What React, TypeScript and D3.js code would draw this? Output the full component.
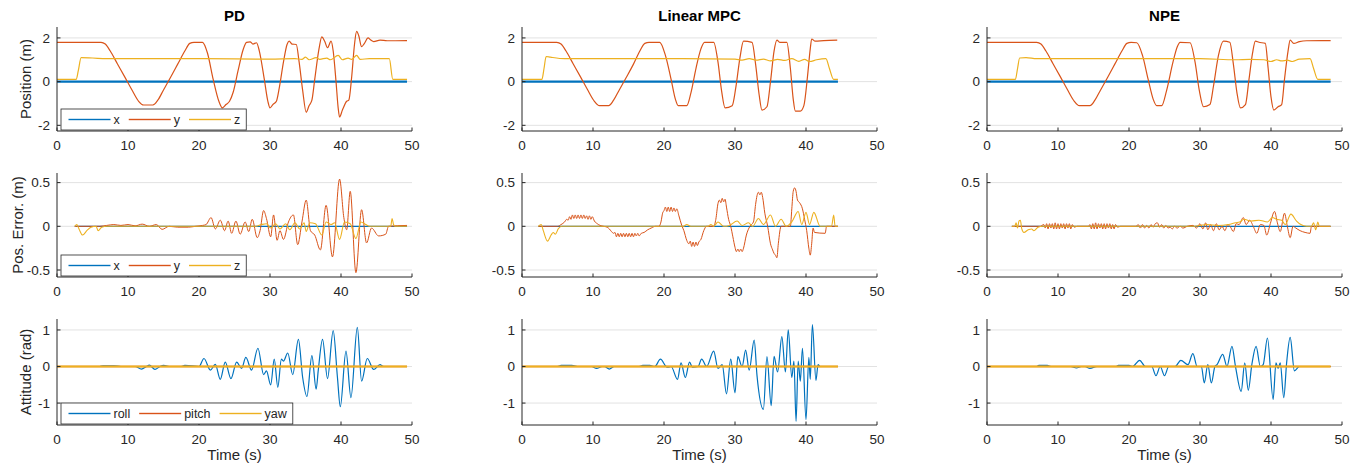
import React from "react";
import * as d3 from "d3";

type Pt = [number, number];

// axis ticks
const xTicks = [0, 10, 20, 30, 40, 50];
const posTicks = [-2, 0, 2];
const errTicks = [-0.5, 0, 0.5];
const attTicks = [-1, 0, 1];

const controllers = ["PD", "Linear MPC", "NPE"];
const rowLabels = ["Position (m)", "Pos. Error. (m)", "Attitude (rad)"];
const xyzNames = ["x", "y", "z"];
const attNames = ["roll", "pitch", "yaw"];

// ---------- position ----------
const pdPosX: Pt[] = [[0, 0], [49.3, 0]];
const pdPosY: Pt[] = [[0, 1.8], [6.2, 1.8], [6.8, 1.72], [7.5, 1.4], [8.5, 0.82], [9.5, 0.24], [10.5, -0.35], [11.5, -0.9], [12.2, -1.07], [13.5, -1.07], [14.2, -0.85], [15, -0.38], [16, 0.2], [17, 0.8], [18, 1.4], [18.7, 1.75], [19.3, 1.8], [20.5, 1.8], [21.2, 1.3], [22, 0.1], [22.8, -0.9], [23.3, -1.2], [23.8, -1.05], [24.3, -0.9], [24.8, -0.5], [25.5, 0.5], [26.2, 1.45], [26.7, 1.8], [27.2, 1.82], [27.6, 1.72], [28.1, 1.78], [28.5, 1.4], [29.2, 0.1], [29.7, -0.9], [30, -1.2], [30.4, -1.05], [30.9, -0.9], [31.3, -0.3], [31.9, 0.9], [32.4, 1.7], [32.7, 1.85], [33.1, 1.72], [33.7, 1.7], [34.1, 0.9], [34.6, -0.4], [35.1, -1.4], [35.5, -1.1], [35.9, -0.85], [36.3, 0.1], [36.9, 1.5], [37.3, 2.05], [37.7, 1.85], [38.1, 1.55], [38.6, 1.85], [38.9, 1.4], [39.3, 0], [39.6, -1.2], [39.8, -1.62], [40.2, -1.3], [40.8, -0.9], [41.1, -0.85], [41.5, 0.2], [41.9, 1.7], [42.2, 2.3], [42.5, 2.1], [42.9, 1.6], [43.3, 1.75], [43.8, 2.0], [44.2, 1.9], [44.6, 1.83], [45.5, 1.9], [46.5, 1.87], [49.3, 1.88]];
const pdPosZ: Pt[] = [[0, 0.1], [2.7, 0.1], [3.0, 0.5], [3.4, 1.1], [5, 1.08], [7, 1.05], [20, 1.05], [30, 1.03], [33.5, 1.05], [34.5, 1.02], [35, 1.12], [35.5, 1.0], [36.5, 1.1], [37, 1.02], [38, 1.08], [38.5, 1.0], [39.6, 1.2], [40.2, 1.0], [41, 1.08], [41.5, 1.02], [42.2, 1.2], [42.7, 1.02], [44, 1.05], [46.8, 1.05], [47.3, 0.1], [49.3, 0.1]];

const mpcPosX: Pt[] = [[0, 0], [44.5, 0]];
const mpcPosY: Pt[] = [[0, 1.8], [4.9, 1.8], [5.5, 1.72], [6.2, 1.4], [7.2, 0.82], [8.2, 0.24], [9.2, -0.35], [10.2, -0.9], [10.9, -1.1], [12.2, -1.1], [12.9, -0.85], [13.7, -0.38], [14.7, 0.2], [15.7, 0.8], [16.6, 1.4], [17.3, 1.75], [17.9, 1.8], [19.4, 1.8], [20.2, 1.2], [21, 0.1], [21.6, -0.8], [22, -1.1], [23.2, -1.1], [23.8, -0.5], [24.5, 0.6], [25.2, 1.5], [25.7, 1.8], [27, 1.8], [27.6, 0.9], [28.1, -0.4], [28.6, -1.2], [29.6, -1.1], [30.1, -0.3], [30.7, 1.1], [31.2, 1.85], [32.4, 1.8], [32.9, 0.8], [33.4, -0.6], [33.8, -1.3], [34.5, -1.15], [35, 0], [35.5, 1.4], [35.9, 1.9], [36.3, 1.8], [37.3, 1.8], [37.8, 0.6], [38.2, -0.8], [38.5, -1.35], [39.2, -1.35], [39.7, -1.1], [40.2, 0.2], [40.6, 1.5], [40.8, 1.95], [41.3, 1.85], [42.5, 1.88], [44.4, 1.9]];
const mpcPosZ: Pt[] = [[0, 0.1], [2.8, 0.1], [3.1, 0.6], [3.4, 1.15], [4, 1.12], [6, 1.05], [20, 1.05], [30, 1.03], [31, 0.98], [32, 1.05], [33, 0.98], [34, 1.03], [35, 0.95], [36, 1.02], [37, 0.97], [38, 1.05], [39, 0.93], [39.8, 1.02], [40.5, 0.92], [41.5, 1.0], [42.8, 1.05], [43.3, 0.6], [43.9, 0.1], [44.5, 0.1]];

const npePosX: Pt[] = [[0, 0], [48.4, 0]];
const npePosY: Pt[] = [[0, 1.8], [7, 1.8], [7.6, 1.72], [8.3, 1.4], [9.3, 0.82], [10.3, 0.24], [11.3, -0.35], [12.3, -0.9], [13, -1.1], [14.5, -1.1], [15.2, -0.85], [16, -0.38], [17, 0.2], [18, 0.8], [19, 1.4], [19.7, 1.75], [20.3, 1.8], [21.1, 1.78], [21.9, 1.2], [22.7, 0.1], [23.4, -0.8], [23.9, -1.1], [24.6, -1.1], [25.3, -0.4], [26.2, 0.9], [26.8, 1.6], [27.2, 1.8], [28.6, 1.78], [29.3, 0.9], [29.9, -0.4], [30.5, -1.15], [31.4, -1.05], [31.9, -0.2], [32.6, 1.2], [33.3, 1.85], [34.2, 1.8], [34.7, 0.8], [35.2, -0.5], [35.7, -1.2], [36.4, -1.05], [36.9, 0.1], [37.4, 1.3], [37.8, 1.85], [38.3, 1.8], [39.2, 1.75], [39.6, 0.6], [40, -0.7], [40.4, -1.3], [41, -1.15], [41.5, -1.05], [41.9, 0.1], [42.4, 1.4], [42.7, 1.9], [43.2, 1.75], [44, 1.83], [45, 1.87], [48.4, 1.88]];
const npePosZ: Pt[] = [[0, 0.1], [4.0, 0.1], [4.3, 0.6], [4.6, 1.08], [5.5, 1.1], [7, 1.05], [30, 1.05], [35, 1.0], [37, 1.02], [39, 1.0], [40, 0.92], [40.8, 1.0], [41.5, 0.95], [42.3, 0.98], [43, 0.92], [44, 1.03], [45.5, 1.05], [46, 0.6], [46.6, 0.1], [48.4, 0.1]];

// ---------- position error ----------
const pdErrX: Pt[] = [[2.5, 0], [49.3, 0]];
const pdErrY: Pt[] = [[2.5, 0], [6, 0], [7, 0.01], [8, 0.02], [9, 0.01], [10, 0.02], [11, 0.005], [12, 0.025], [13, 0], [14, 0.02], [14.8, -0.035], [15.8, 0], [17, -0.01], [18.5, -0.01], [19.5, 0], [20.5, 0.01], [21, 0.02], [21.7, 0.1], [22.3, -0.03], [23, 0.07], [23.6, -0.05], [24.1, 0.06], [24.6, -0.08], [25.2, 0.06], [25.8, -0.09], [26.5, 0.05], [27, -0.06], [27.5, 0.08], [28.2, -0.13], [28.6, -0.05], [29.1, 0.18], [29.5, 0.09], [30.1, -0.12], [30.5, 0.13], [31, -0.16], [31.4, -0.05], [31.9, -0.15], [32.6, 0.05], [33.3, 0.13], [33.9, -0.21], [34.5, 0.05], [35.1, 0.3], [35.7, -0.05], [36.3, -0.1], [37.1, -0.27], [37.9, 0.24], [38.8, -0.35], [39.8, 0.54], [40.4, 0.1], [40.8, -0.04], [41.3, 0.4], [42.1, -0.53], [42.9, 0.19], [43.6, -0.19], [44.3, -0.02], [45.3, -0.11], [46.3, -0.09], [46.7, 0], [49.3, 0.01]];
const pdErrZ: Pt[] = [[2.5, 0], [2.8, 0.02], [3.1, -0.03], [3.6, -0.1], [4.2, -0.05], [4.8, -0.01], [5.5, 0], [5.8, -0.05], [6.3, -0.01], [7, 0], [28, 0], [28.8, 0.02], [29.5, 0.03], [30.1, -0.02], [30.8, 0.03], [31.4, -0.03], [32.2, 0.03], [32.8, -0.04], [33.5, 0.04], [34.2, -0.03], [34.8, 0.04], [35.1, -0.06], [35.6, 0.04], [36.4, 0.03], [37.3, -0.1], [37.9, 0.05], [38.6, 0.02], [39.1, 0.04], [39.8, -0.15], [40.5, 0.05], [41.3, 0.03], [42.1, -0.14], [42.8, 0.05], [43.5, 0.02], [44, 0], [47, 0], [47.2, 0.09], [47.4, 0.02], [47.6, 0], [49.3, 0]];

const mpcErrX: Pt[] = [[2.3, 0], [44.5, 0]];
const mpcErrY: Pt[] = [[2.3, 0], [5, 0], [5.5, 0.02], [6, 0.05], [6.3, 0.08], [6.5, 0.07], [6.7, 0.11], [6.9, 0.08], [7.1, 0.13], [7.3, 0.09], [7.5, 0.13], [7.7, 0.09], [7.9, 0.13], [8.1, 0.09], [8.3, 0.13], [8.5, 0.09], [8.7, 0.13], [8.9, 0.09], [9.1, 0.12], [9.3, 0.08], [9.5, 0.12], [9.7, 0.08], [9.9, 0.11], [10.2, 0.06], [10.6, 0.03], [11, 0.01], [11.5, 0], [12, -0.01], [12.3, -0.03], [12.6, -0.06], [12.9, -0.08], [13.1, -0.07], [13.3, -0.12], [13.5, -0.08], [13.7, -0.12], [13.9, -0.08], [14.1, -0.12], [14.3, -0.08], [14.5, -0.12], [14.7, -0.08], [14.9, -0.12], [15.1, -0.08], [15.3, -0.12], [15.5, -0.08], [15.7, -0.12], [15.9, -0.08], [16.1, -0.11], [16.3, -0.08], [16.5, -0.11], [16.8, -0.08], [17.2, -0.07], [17.7, -0.04], [18.2, -0.02], [18.8, 0], [19.3, 0], [19.6, 0.06], [19.8, 0.15], [20, 0.18], [20.2, 0.22], [20.4, 0.17], [20.6, 0.22], [20.8, 0.17], [21, 0.22], [21.2, 0.17], [21.4, 0.21], [21.6, 0.17], [21.8, 0.2], [22.1, 0.12], [22.5, 0.01], [22.8, -0.05], [23.2, -0.16], [23.5, -0.2], [23.7, -0.17], [23.9, -0.23], [24.1, -0.18], [24.3, -0.23], [24.5, -0.18], [24.7, -0.22], [24.9, -0.18], [25.2, -0.15], [25.6, -0.05], [26, 0], [27, 0], [27.3, 0.08], [27.6, 0.26], [27.8, 0.3], [28, 0.27], [28.2, 0.32], [28.4, 0.28], [28.6, 0.31], [28.8, 0.22], [29.1, 0.08], [29.4, 0], [29.7, -0.12], [30, -0.24], [30.2, -0.29], [30.4, -0.26], [30.6, -0.29], [30.8, -0.26], [31, -0.29], [31.2, -0.25], [31.6, -0.1], [32.1, 0], [32.6, 0.05], [32.9, 0.25], [33.1, 0.35], [33.3, 0.39], [33.5, 0.36], [33.7, 0.39], [33.9, 0.33], [34.2, 0.15], [34.6, 0], [35, -0.2], [35.3, -0.27], [35.5, -0.31], [35.7, -0.33], [35.9, -0.36], [36.1, -0.2], [36.5, 0], [37.8, 0], [38, 0.2], [38.2, 0.4], [38.4, 0.44], [38.6, 0.4], [38.8, 0.3], [39.1, 0.27], [39.5, 0.2], [39.8, 0.08], [40.1, -0.05], [40.4, -0.25], [40.6, -0.33], [40.8, -0.2], [41, -0.02], [41.2, -0.07], [42.7, -0.08], [42.9, 0], [44.5, 0]];
const mpcErrZ: Pt[] = [[2.3, 0], [2.7, 0.02], [3.0, -0.05], [3.6, -0.17], [4.1, -0.1], [4.4, -0.07], [4.7, -0.09], [5.1, -0.03], [5.6, 0], [22.7, 0], [23.2, 0.02], [23.8, 0], [26.2, 0], [26.6, 0.02], [27, 0], [27.6, 0.05], [28.4, 0], [29.2, 0.01], [30.3, 0.06], [31, 0.01], [31.9, 0.04], [32.5, 0], [33.3, 0.09], [34, 0.02], [35, 0.13], [35.7, 0], [36.5, 0.08], [37.2, 0], [38, 0.05], [38.9, 0.17], [39.4, 0.02], [40, 0.16], [40.5, 0.02], [41.1, 0.16], [42, 0], [43.6, 0], [43.9, 0.13], [44.1, 0], [44.5, 0]];

const npeErrX: Pt[] = [[3.5, 0], [48.4, 0]];
const npeErrY: Pt[] = [[3.5, 0], [7.5, 0], [8, 0.02], [8.2, -0.02], [8.4, 0.03], [8.6, -0.03], [8.8, 0.03], [9, -0.02], [9.2, 0.03], [9.4, -0.03], [9.6, 0.04], [9.8, -0.03], [10, 0.03], [10.2, -0.03], [10.4, 0.03], [10.6, -0.02], [10.8, 0.03], [11, -0.03], [11.2, 0.03], [11.4, -0.02], [11.6, 0.03], [11.8, -0.03], [12, 0.02], [12.3, -0.01], [12.7, 0], [14.3, 0], [14.5, 0.02], [14.7, -0.03], [14.9, 0.03], [15.1, -0.03], [15.3, 0.04], [15.5, -0.03], [15.7, 0.03], [15.9, -0.02], [16.1, 0.03], [16.3, -0.03], [16.5, 0.03], [16.7, -0.03], [16.9, 0.03], [17.1, -0.02], [17.3, 0.03], [17.5, -0.03], [17.7, 0.02], [17.9, -0.03], [18.1, 0.02], [18.4, -0.01], [18.8, 0], [21, 0], [21.3, 0.02], [21.6, -0.02], [21.9, 0.02], [22.2, -0.02], [22.5, 0.01], [22.8, -0.02], [23.1, 0.02], [23.4, -0.01], [23.7, 0.03], [24, 0.04], [24.3, -0.01], [24.6, 0.02], [24.9, -0.02], [25.2, 0.01], [25.5, -0.02], [25.8, -0.01], [26.1, -0.03], [26.4, 0], [26.8, -0.02], [27.2, 0], [27.6, -0.02], [28.2, 0], [29, 0.01], [29.5, -0.02], [30, 0.03], [30.4, -0.03], [30.8, 0.04], [31.1, -0.04], [31.5, 0.02], [31.9, -0.05], [32.3, 0.03], [32.7, -0.04], [33.1, 0], [33.5, -0.05], [33.9, 0.02], [34.3, -0.01], [34.7, -0.06], [35.1, 0.03], [35.5, 0.02], [36.1, 0.1], [36.5, 0.02], [37, 0.07], [37.5, 0], [38, -0.08], [38.5, 0.02], [39, 0.01], [39.4, -0.1], [39.9, 0.03], [40.5, 0.17], [40.9, 0.04], [41.3, -0.06], [41.9, 0.15], [42.3, 0.0], [42.7, -0.13], [43.1, 0.0], [43.5, -0.02], [44.1, -0.05], [44.8, -0.07], [45.5, -0.08], [45.7, 0], [48.4, 0]];
const npeErrZ: Pt[] = [[3.5, 0], [3.9, 0], [4.1, 0.04], [4.3, -0.02], [4.5, 0.06], [4.7, 0.07], [4.9, -0.03], [5.2, -0.07], [5.8, -0.04], [6.3, -0.03], [6.6, -0.05], [7.2, -0.01], [7.8, 0], [29, 0], [30, 0.01], [31, 0.02], [32.5, 0.01], [34, 0.02], [35, 0.04], [35.6, 0.05], [36.2, 0.08], [37.2, 0.06], [38.3, 0.07], [39.5, 0.05], [40.2, 0.1], [40.8, 0.08], [41.5, 0.07], [42, 0.02], [42.8, 0.14], [43.6, 0.06], [44.2, 0.02], [45, 0], [45.7, 0], [46, 0.04], [46.3, -0.04], [46.6, 0.05], [46.8, 0], [48.4, 0]];

// ---------- attitude ----------
const pdRoll: Pt[] = [[0, 0], [6, 0], [6.5, 0.02], [8, 0.02], [9, 0], [11, 0], [11.9, -0.07], [12.6, 0], [13, 0.04], [13.8, -0.08], [14.5, 0], [15, 0.03], [16, 0], [17.5, 0], [18, 0.03], [19, 0.02], [20, 0], [20.7, 0.22], [21.6, -0.1], [22.3, 0.06], [23, -0.35], [23.7, 0.12], [24.5, -0.33], [25.3, 0.12], [26, -0.05], [26.6, 0.25], [27.4, -0.1], [28.3, 0.5], [29.1, -0.22], [29.5, -0.12], [30.1, -0.5], [30.6, 0.2], [31.1, -0.57], [31.6, 0.2], [31.9, 0.15], [32.5, 0.37], [33.2, -0.22], [34, 0.74], [34.6, -0.3], [35.2, -0.82], [35.9, 0.3], [36.5, -0.62], [36.8, -0.1], [37.4, 0.74], [38.1, -0.33], [38.9, 0.98], [39.5, -0.3], [39.9, -1.1], [40.7, 0.42], [41.4, -0.85], [42.3, 1.07], [42.9, -0.4], [43.7, 0.22], [44.6, -0.08], [45.5, 0.05], [46, 0], [49.3, 0]];
const pdPitch: Pt[] = [[0, 0], [49.3, 0]];
const pdYaw: Pt[] = [[0, 0], [49.3, 0]];

const mpcRoll: Pt[] = [[0, 0], [5, 0], [5.5, 0.03], [7, 0.03], [8, 0], [9.8, 0], [10.5, -0.05], [11.3, 0], [11.6, 0], [12.3, -0.07], [13, 0], [16.5, 0], [17, 0.03], [18, 0.03], [18.7, 0], [19.5, 0.2], [20.3, 0], [20.5, -0.02], [21, 0], [21.9, -0.35], [22.4, 0.1], [23, -0.3], [23.6, 0.12], [24, -0.02], [24.8, 0], [25.3, 0.2], [26, 0], [27, 0.42], [27.6, -0.05], [28.2, 0.05], [28.8, -0.75], [29.4, 0.2], [30, -0.72], [30.4, 0.27], [31, 0], [31.5, 0.45], [32, -0.1], [32.7, 0.72], [33.1, -0.25], [34, -1.17], [34.5, 0.27], [35.1, -1.07], [35.5, 0.28], [36, -0.15], [36.6, 0.82], [37.1, -0.15], [37.5, 1.0], [38, -0.3], [38.3, 0.15], [38.6, -1.5], [38.9, 0.15], [39.2, -0.4], [39.5, 0.5], [40, -1.45], [40.4, 0.25], [40.6, -0.35], [40.9, 1.15], [41.4, -0.38], [41.7, 0.05], [42, 0], [44.5, 0]];
const mpcPitch: Pt[] = [[0, 0], [44.5, 0]];
const mpcYaw: Pt[] = [[0, 0], [44.5, 0]];

const npeRoll: Pt[] = [[0, 0], [7, 0], [7.3, 0.03], [8.5, 0.03], [9, 0], [11.8, 0], [12.6, -0.04], [13.3, 0], [13.8, 0], [14.5, -0.05], [15.5, 0], [18.2, 0], [18.5, 0.03], [20, 0.03], [20.5, 0], [21.5, 0.17], [22.3, 0], [23.2, 0], [23.8, -0.25], [24.4, 0], [25, -0.25], [25.6, 0], [26.5, 0], [27.3, 0.17], [28.3, 0.05], [29, 0.35], [29.6, 0], [30.2, 0], [30.6, -0.45], [31.1, 0.05], [31.6, -0.45], [32.1, 0], [32.4, 0.05], [33.2, 0.33], [33.8, 0], [34.5, 0.55], [35, 0], [35.8, -0.68], [36.3, 0.1], [36.8, -0.65], [37.3, 0.05], [37.9, 0.55], [38.5, 0], [38.9, 0.05], [39.5, 0.78], [40.3, -0.9], [40.7, 0.1], [41, -0.05], [41.3, 0.1], [41.8, -0.85], [42.2, 0.1], [42.7, 0.8], [43.3, -0.12], [44, 0], [48.4, 0]];
const npePitch: Pt[] = [[0, 0], [48.4, 0]];
const npeYaw: Pt[] = [[0, 0], [48.4, 0]];

const BLUE = "#0072BD";
const ORANGE = "#D95319";
const YELLOW = "#EDB120";
const INK = "#262626";
const FONT = "'Liberation Sans', Arial, Helvetica, sans-serif";
const seriesColors = [BLUE, ORANGE, YELLOW];

const colLeft = [57, 522, 987];
const plotW = 355;
const rows = [
  { top: 27, h: 104, domain: [-2.26, 2.5], ticks: posTicks, labelX: 26 },
  { top: 173, h: 104, domain: [-0.58, 0.61], ticks: errTicks, labelX: 18 },
  { top: 319, h: 106, domain: [-1.6, 1.3], ticks: attTicks, labelX: 26 },
];

type Series = { data: Pt[]; color: string; w: number };

function textW(s: string) {
  const c = document.createElement("canvas").getContext("2d");
  if (!c) return s.length * 6.5;
  c.font = `12.5px ${FONT}`;
  return c.measureText(s).width;
}

function Legend({ x0, y0, names }: { x0: number; y0: number; names: string[] }) {
  let cur = 7.5;
  const items = names.map((n, i) => {
    const start = cur;
    cur = start + 42 + 3 + textW(n) + 9;
    return { n, start, fill: seriesColors[i] };
  });
  const boxW = cur - 3;
  const mid = y0 + 10.5;
  return (
    <g>
      <rect x={x0} y={y0} width={boxW} height={21} fill="#ffffff" stroke={INK} strokeWidth={0.8} />
      {items.map((it) => (
        <g key={it.n}>
          <rect x={x0 + it.start} y={mid - 0.7} width={42} height={1.4} style={{ fill: it.fill }} />
          <text x={x0 + it.start + 45} y={mid} dy="0.35em" fontSize={12.5} fill={INK} fontFamily={FONT}>
            {it.n}
          </text>
        </g>
      ))}
    </g>
  );
}

function Panel({ col, row, series, legend }: { col: number; row: number; series: Series[]; legend?: string[] }) {
  const r = rows[row];
  const left = colLeft[col];
  const x = d3.scaleLinear().domain([0, 50]).range([left, left + plotW]);
  const y = d3.scaleLinear().domain(r.domain).range([r.top + r.h, r.top]);
  const line = d3
    .line<Pt>()
    .x((d) => x(d[0]))
    .y((d) => y(d[1]))
    .curve(d3.curveMonotoneX);
  const bottom = r.top + r.h;

  return (
    <g>
      {r.ticks.map((t) => (
        <line key={"g" + t} x1={left} x2={left + plotW} y1={y(t)} y2={y(t)} stroke="#e2e2e2" strokeWidth={1} />
      ))}
      {series.map((s, i) => (
        <path key={i} d={line(s.data) || ""} fill="none" stroke={s.color} strokeWidth={s.w} strokeLinejoin="round" />
      ))}
      <line x1={left} x2={left + plotW} y1={bottom} y2={bottom} stroke={INK} strokeWidth={1} />
      <line x1={left} x2={left} y1={r.top} y2={bottom} stroke={INK} strokeWidth={1} />
      {xTicks.map((t) => (
        <g key={"x" + t}>
          <line x1={x(t)} x2={x(t)} y1={bottom} y2={bottom - 3.5} stroke={INK} strokeWidth={1} />
          <text x={x(t)} y={bottom + 14} dy="0.35em" textAnchor="middle" fontSize={13.5} fill={INK} fontFamily={FONT}>
            {t}
          </text>
        </g>
      ))}
      {r.ticks.map((t) => (
        <g key={"y" + t}>
          <line x1={left} x2={left + 3.5} y1={y(t)} y2={y(t)} stroke={INK} strokeWidth={1} />
          <text x={left - 7} y={y(t)} dy="0.35em" textAnchor="end" fontSize={13.5} fill={INK} fontFamily={FONT}>
            {String(t)}
          </text>
        </g>
      ))}
      {row === 0 && (
        <text x={left + plotW / 2} y={16} dy="0.35em" textAnchor="middle" fontSize={15} fontWeight="bold" fill="#000" fontFamily={FONT}>
          {controllers[col]}
        </text>
      )}
      {row === 2 && (
        <text x={left + plotW / 2} y={455} dy="0.35em" textAnchor="middle" fontSize={15} fill={INK} fontFamily={FONT}>
          Time (s)
        </text>
      )}
      {col === 0 && (
        <text
          transform={`translate(${r.labelX},${r.top + r.h / 2}) rotate(-90)`}
          textAnchor="middle"
          dy="0.35em"
          fontSize={15}
          fill={INK}
          fontFamily={FONT}
        >
          {rowLabels[row]}
        </text>
      )}
      {legend && <Legend x0={left + 4} y0={bottom - 22} names={legend} />}
    </g>
  );
}

export default function App() {
  const pos = [
    [pdPosX, pdPosY, pdPosZ],
    [mpcPosX, mpcPosY, mpcPosZ],
    [npePosX, npePosY, npePosZ],
  ];
  const err = [
    [pdErrX, pdErrY, pdErrZ],
    [mpcErrX, mpcErrY, mpcErrZ],
    [npeErrX, npeErrY, npeErrZ],
  ];
  const att = [
    [pdRoll, pdPitch, pdYaw],
    [mpcRoll, mpcPitch, mpcYaw],
    [npeRoll, npePitch, npeYaw],
  ];

  return (
    <svg width={1367} height={466} style={{ position: "absolute", left: 0, top: 0, background: "white" }}>
      {[0, 1, 2].map((c) => (
        <g key={c}>
          <Panel
            col={c}
            row={0}
            series={[
              { data: pos[c][0], color: BLUE, w: 2.2 },
              { data: pos[c][1], color: ORANGE, w: 1.2 },
              { data: pos[c][2], color: YELLOW, w: 1.2 },
            ]}
            legend={c === 0 ? xyzNames : undefined}
          />
          <Panel
            col={c}
            row={1}
            series={[
              { data: err[c][0], color: BLUE, w: 1.2 },
              { data: err[c][1], color: ORANGE, w: 1.0 },
              { data: err[c][2], color: YELLOW, w: 1.1 },
            ]}
            legend={c === 0 ? xyzNames : undefined}
          />
          <Panel
            col={c}
            row={2}
            series={[
              { data: att[c][0], color: BLUE, w: 1.2 },
              { data: att[c][1], color: ORANGE, w: 1.5 },
              { data: att[c][2], color: YELLOW, w: 1.8 },
            ]}
            legend={c === 0 ? attNames : undefined}
          />
        </g>
      ))}
    </svg>
  );
}
